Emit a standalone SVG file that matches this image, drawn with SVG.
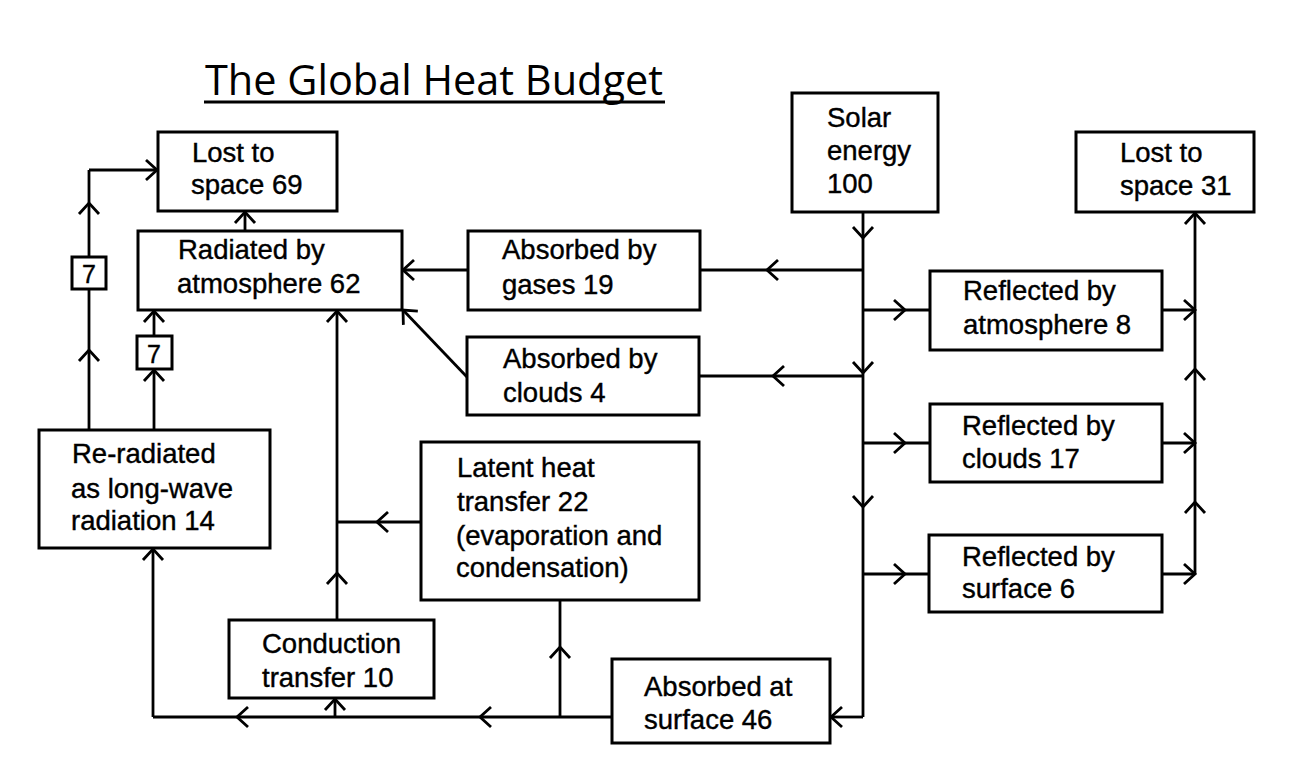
<svg xmlns="http://www.w3.org/2000/svg" width="1303" height="784" viewBox="0 0 1303 784">
<style>
.box{fill:#fff;stroke:#000;stroke-width:3}
.t{font-family:"Liberation Sans",Arial,sans-serif;font-size:27.5px;fill:#000;stroke:#000;stroke-width:0.4}
.n{font-family:"Liberation Sans",Arial,sans-serif;font-size:25px;fill:#000;stroke:#000;stroke-width:0.4;text-anchor:middle}
.c{fill:none;stroke:#000;stroke-width:2.8}
.m{marker-mid:url(#ah)}
.e{marker-end:url(#ah)}
</style>
<defs>
<marker id="ah" markerUnits="userSpaceOnUse" markerWidth="28" markerHeight="28" viewBox="-14 -14 28 28" refX="0" refY="0" orient="auto">
<path d="M-11,-10 L0,0 L-11,10" fill="none" stroke="#000" stroke-width="2.8"/>
</marker>
</defs>
<rect width="1303" height="784" fill="#fff"/>
<g id="title">
<text x="205" y="95" font-family="'Open Sans','Liberation Sans',sans-serif" font-size="42" textLength="458" lengthAdjust="spacingAndGlyphs">The Global Heat Budget</text>
<line x1="204" y1="102" x2="665" y2="102" stroke="#000" stroke-width="3"/>
</g>
<g id="connectors">
<path class="c m" d="M863,212 L863,238 L863,373 L863,507 L863,717"/>
<path class="c e" d="M863,717 L831,717"/>
<path class="c m" d="M863,270 L767,270 L700,270"/>
<path class="c e" d="M468,270 L403,270"/>
<path class="c m" d="M863,376 L773,376 L699,376"/>
<path class="c e" d="M467,377 L403,310"/>
<path class="c m" d="M863,310 L905,310 L930,310"/>
<path class="c e" d="M1162,310 L1195,310"/>
<path class="c m" d="M863,443 L905,443 L930,443"/>
<path class="c e" d="M1162,443 L1195,443"/>
<path class="c m" d="M863,574 L905,574 L929,574"/>
<path class="c e" d="M1162,574 L1195,574"/>
<path class="c m e" d="M1195,574 L1195,502 L1195,369 L1195,213"/>
<path class="c e" d="M245,231 L245,212"/>
<path class="c m" d="M89,430 L89,350 L89,289"/>
<path class="c m" d="M89,257 L89,203 L89,170"/>
<path class="c e" d="M89,170 L157,170"/>
<path class="c e" d="M154,430 L154,370"/>
<path class="c e" d="M154,336 L154,311"/>
<path class="c m e" d="M337,620 L337,573 L337,311"/>
<path class="c m" d="M421,522 L377,522 L337,522"/>
<path class="c m" d="M613,717 L480,717 L237,717 L153,717"/>
<path class="c e" d="M153,717 L153,549"/>
<path class="c e" d="M335,717 L335,699"/>
<path class="c m" d="M560,717 L560,647 L560,600"/>
</g>
<g id="lost69"><rect class="box" x="158" y="132" width="179" height="79"/><text class="t" x="192" y="162">Lost to</text><text class="t" x="191" y="194">space 69</text></g>
<g id="radiated"><rect class="box" x="138" y="231" width="264" height="79"/><text class="t" x="178" y="259">Radiated by</text><text class="t" x="177" y="293">atmosphere 62</text></g>
<g id="seven1"><rect class="box" x="72" y="257" width="34" height="32"/><text class="n" x="89" y="283">7</text></g>
<g id="seven2"><rect class="box" x="137" y="336" width="35" height="33"/><text class="n" x="154" y="363">7</text></g>
<g id="gases"><rect class="box" x="468" y="231" width="232" height="79"/><text class="t" x="502" y="259">Absorbed by</text><text class="t" x="502" y="294">gases 19</text></g>
<g id="clouds"><rect class="box" x="467" y="337" width="232" height="78"/><text class="t" x="503" y="368">Absorbed by</text><text class="t" x="503" y="402">clouds 4</text></g>
<g id="solar"><rect class="box" x="792" y="93" width="146" height="119"/><text class="t" x="827" y="127">Solar</text><text class="t" x="827" y="160">energy</text><text class="t" x="827" y="193">100</text></g>
<g id="lost31"><rect class="box" x="1076" y="132" width="178" height="80"/><text class="t" x="1120" y="162">Lost to</text><text class="t" x="1120" y="195">space 31</text></g>
<g id="reflatm"><rect class="box" x="930" y="271" width="232" height="79"/><text class="t" x="963" y="300">Reflected by</text><text class="t" x="963" y="334">atmosphere 8</text></g>
<g id="reflclouds"><rect class="box" x="930" y="404" width="232" height="78"/><text class="t" x="962" y="435">Reflected by</text><text class="t" x="962" y="468">clouds 17</text></g>
<g id="reflsurface"><rect class="box" x="929" y="535" width="233" height="77"/><text class="t" x="962" y="566">Reflected by</text><text class="t" x="962" y="598">surface 6</text></g>
<g id="reradiated"><rect class="box" x="39" y="430" width="231" height="118"/><text class="t" x="72" y="463">Re-radiated</text><text class="t" x="71" y="498">as long-wave</text><text class="t" x="71" y="530">radiation 14</text></g>
<g id="conduction"><rect class="box" x="229" y="620" width="205" height="78"/><text class="t" x="262" y="653">Conduction</text><text class="t" x="262" y="687">transfer 10</text></g>
<g id="latent"><rect class="box" x="421" y="442" width="278" height="158"/><text class="t" x="457" y="477">Latent heat</text><text class="t" x="457" y="511">transfer 22</text><text class="t" x="456" y="545">(evaporation and</text><text class="t" x="456" y="577">condensation)</text></g>
<g id="surface"><rect class="box" x="612" y="659" width="218" height="84"/><text class="t" x="644" y="696">Absorbed at</text><text class="t" x="644" y="729">surface 46</text></g>
</svg>
